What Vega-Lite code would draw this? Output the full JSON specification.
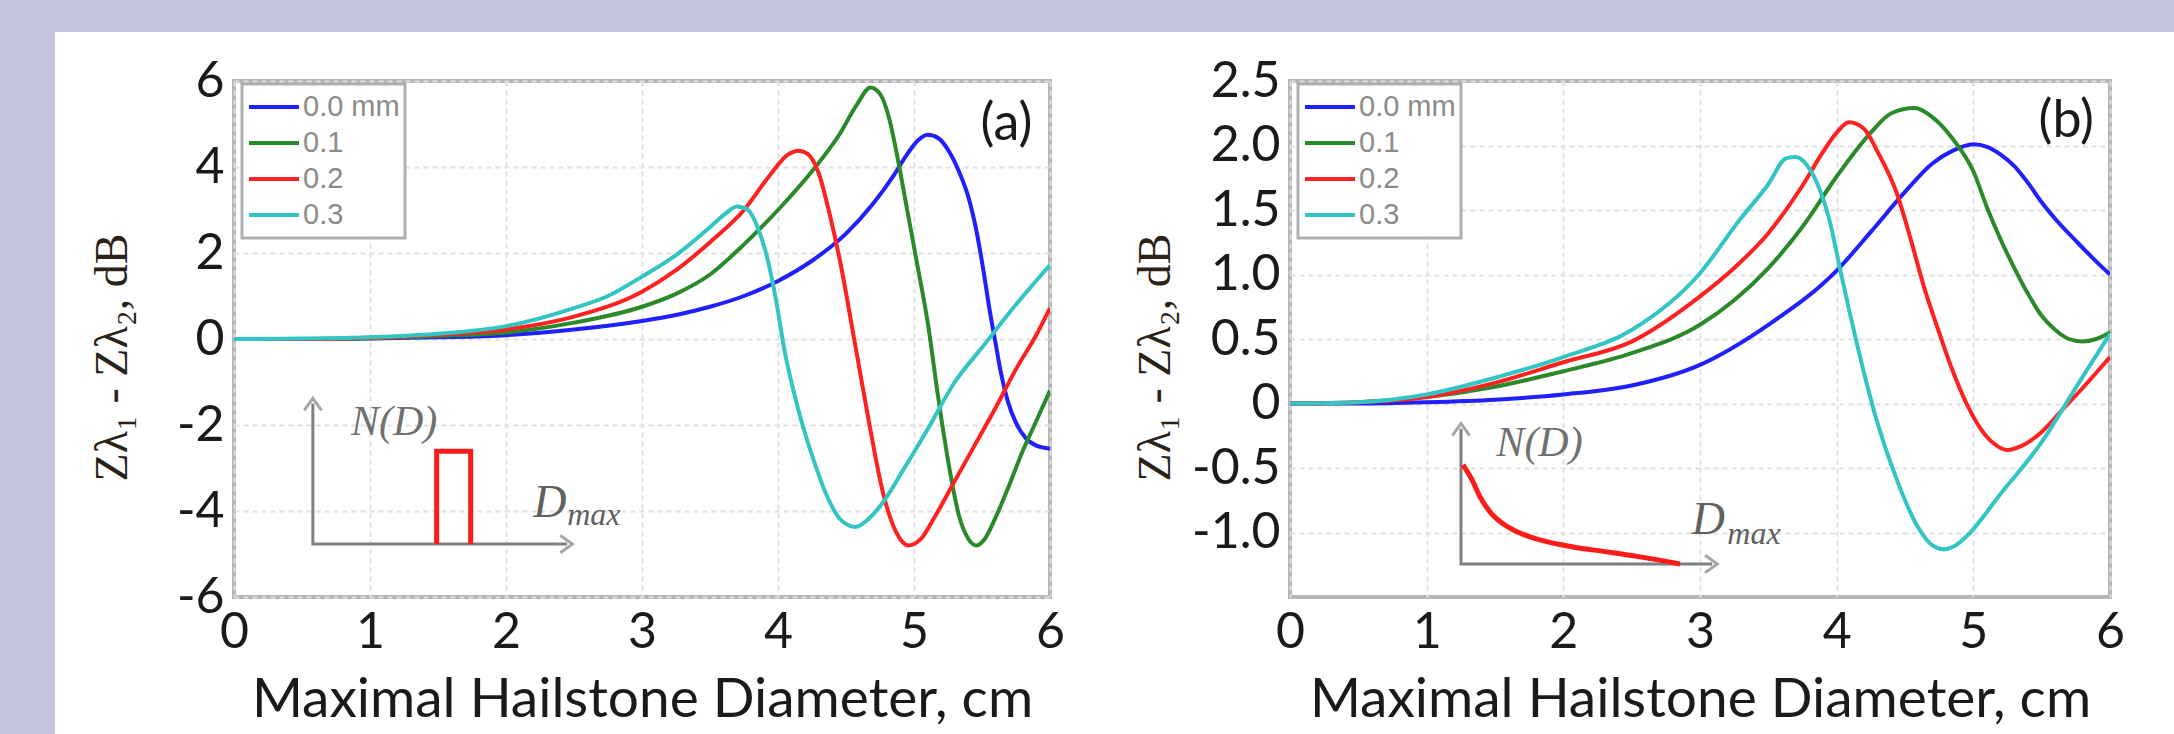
{
  "$schema": "https://vega.github.io/schema/vega-lite/v6.json",
  "background": "white",
  "padding": 0,
  "columns": 6,
  "spacing": 0,
  "bounds": "flush",
  "align": "each",
  "resolve": {"scale": {"color": "independent"}, "legend": {"color": "independent"}},
  "config": {
    "font": "Lato",
    "axis": {
      "grid": true, "gridColor": "#e0e0e0", "gridDash": [5, 4], "gridWidth": 2,
      "ticks": false, "domain": false,
      "labelFont": "Lato", "labelFontSize": 50, "labelColor": "#1a1a1a", "labelPadding": 10,
      "labelFlush": false, "labelOverlap": false,
      "titleFont": "Lato", "titleFontSize": 55, "titleFontWeight": "normal", "titleColor": "#1a1a1a"
    },
    "legend": {
      "orient": "none", "legendX": 8, "legendY": 3, "symbolType": "stroke", "symbolSize": 2500, "symbolStrokeWidth": 4,
      "labelFont": "Liberation Sans", "labelFontSize": 29, "labelColor": "#8a8a8a",
      "strokeColor": "#b0b0b0", "strokeWidth": 3, "fillColor": "white", "padding": 5, "rowPadding": 0,
      "clipHeight": 36, "labelOffset": 2, "cornerRadius": 0
    }
  },
  "datasets": {
    "curvesA": [
      {"x":0,"y":0,"s":"0.0 mm"},{"x":0.5,"y":0,"s":"0.0 mm"},{"x":1,"y":0.01,"s":"0.0 mm"},{"x":1.5,"y":0.04,"s":"0.0 mm"},{"x":2,"y":0.09,"s":"0.0 mm"},{"x":2.5,"y":0.22,"s":"0.0 mm"},{"x":3,"y":0.42,"s":"0.0 mm"},{"x":3.25,"y":0.56,"s":"0.0 mm"},{"x":3.5,"y":0.75,"s":"0.0 mm"},{"x":3.75,"y":1.0,"s":"0.0 mm"},{"x":4,"y":1.35,"s":"0.0 mm"},{"x":4.25,"y":1.82,"s":"0.0 mm"},{"x":4.5,"y":2.45,"s":"0.0 mm"},{"x":4.7,"y":3.15,"s":"0.0 mm"},{"x":4.85,"y":3.8,"s":"0.0 mm"},{"x":4.95,"y":4.3,"s":"0.0 mm"},{"x":5.03,"y":4.62,"s":"0.0 mm"},{"x":5.1,"y":4.75,"s":"0.0 mm"},{"x":5.18,"y":4.67,"s":"0.0 mm"},{"x":5.26,"y":4.35,"s":"0.0 mm"},{"x":5.33,"y":3.9,"s":"0.0 mm"},{"x":5.4,"y":3.3,"s":"0.0 mm"},{"x":5.46,"y":2.5,"s":"0.0 mm"},{"x":5.51,"y":1.6,"s":"0.0 mm"},{"x":5.56,"y":0.6,"s":"0.0 mm"},{"x":5.6,"y":-0.1,"s":"0.0 mm"},{"x":5.64,"y":-0.8,"s":"0.0 mm"},{"x":5.69,"y":-1.45,"s":"0.0 mm"},{"x":5.75,"y":-1.95,"s":"0.0 mm"},{"x":5.82,"y":-2.3,"s":"0.0 mm"},{"x":5.9,"y":-2.48,"s":"0.0 mm"},{"x":6,"y":-2.55,"s":"0.0 mm"},
      {"x":0,"y":0,"s":"0.1"},{"x":0.5,"y":0,"s":"0.1"},{"x":1,"y":0.02,"s":"0.1"},{"x":1.5,"y":0.07,"s":"0.1"},{"x":2,"y":0.15,"s":"0.1"},{"x":2.5,"y":0.38,"s":"0.1"},{"x":3,"y":0.75,"s":"0.1"},{"x":3.25,"y":1.05,"s":"0.1"},{"x":3.5,"y":1.5,"s":"0.1"},{"x":3.75,"y":2.2,"s":"0.1"},{"x":4,"y":3.0,"s":"0.1"},{"x":4.25,"y":3.9,"s":"0.1"},{"x":4.45,"y":4.75,"s":"0.1"},{"x":4.58,"y":5.45,"s":"0.1"},{"x":4.68,"y":5.85,"s":"0.1"},{"x":4.75,"y":5.7,"s":"0.1"},{"x":4.82,"y":5.1,"s":"0.1"},{"x":4.88,"y":4.2,"s":"0.1"},{"x":4.95,"y":3.0,"s":"0.1"},{"x":5.02,"y":1.8,"s":"0.1"},{"x":5.1,"y":0.4,"s":"0.1"},{"x":5.18,"y":-1.4,"s":"0.1"},{"x":5.26,"y":-3.0,"s":"0.1"},{"x":5.33,"y":-4.1,"s":"0.1"},{"x":5.4,"y":-4.65,"s":"0.1"},{"x":5.46,"y":-4.8,"s":"0.1"},{"x":5.52,"y":-4.65,"s":"0.1"},{"x":5.6,"y":-4.15,"s":"0.1"},{"x":5.7,"y":-3.4,"s":"0.1"},{"x":5.8,"y":-2.6,"s":"0.1"},{"x":5.9,"y":-1.9,"s":"0.1"},{"x":6,"y":-1.2,"s":"0.1"},
      {"x":0,"y":0,"s":"0.2"},{"x":0.5,"y":0,"s":"0.2"},{"x":1,"y":0.03,"s":"0.2"},{"x":1.5,"y":0.1,"s":"0.2"},{"x":2,"y":0.22,"s":"0.2"},{"x":2.5,"y":0.52,"s":"0.2"},{"x":3,"y":1.1,"s":"0.2"},{"x":3.25,"y":1.6,"s":"0.2"},{"x":3.5,"y":2.25,"s":"0.2"},{"x":3.75,"y":3.0,"s":"0.2"},{"x":3.95,"y":3.85,"s":"0.2"},{"x":4.07,"y":4.28,"s":"0.2"},{"x":4.15,"y":4.38,"s":"0.2"},{"x":4.22,"y":4.3,"s":"0.2"},{"x":4.3,"y":3.85,"s":"0.2"},{"x":4.38,"y":2.9,"s":"0.2"},{"x":4.46,"y":1.75,"s":"0.2"},{"x":4.56,"y":0,"s":"0.2"},{"x":4.67,"y":-1.95,"s":"0.2"},{"x":4.77,"y":-3.55,"s":"0.2"},{"x":4.87,"y":-4.5,"s":"0.2"},{"x":4.96,"y":-4.8,"s":"0.2"},{"x":5.05,"y":-4.65,"s":"0.2"},{"x":5.15,"y":-4.15,"s":"0.2"},{"x":5.3,"y":-3.3,"s":"0.2"},{"x":5.45,"y":-2.45,"s":"0.2"},{"x":5.6,"y":-1.6,"s":"0.2"},{"x":5.75,"y":-0.7,"s":"0.2"},{"x":5.9,"y":0.1,"s":"0.2"},{"x":6,"y":0.72,"s":"0.2"},
      {"x":0,"y":0,"s":"0.3"},{"x":0.5,"y":0.01,"s":"0.3"},{"x":1,"y":0.04,"s":"0.3"},{"x":1.5,"y":0.12,"s":"0.3"},{"x":2,"y":0.3,"s":"0.3"},{"x":2.5,"y":0.72,"s":"0.3"},{"x":2.75,"y":1.0,"s":"0.3"},{"x":3,"y":1.45,"s":"0.3"},{"x":3.25,"y":1.95,"s":"0.3"},{"x":3.5,"y":2.6,"s":"0.3"},{"x":3.6,"y":2.88,"s":"0.3"},{"x":3.7,"y":3.08,"s":"0.3"},{"x":3.78,"y":3.0,"s":"0.3"},{"x":3.85,"y":2.6,"s":"0.3"},{"x":3.92,"y":1.9,"s":"0.3"},{"x":3.98,"y":1.0,"s":"0.3"},{"x":4.05,"y":-0.3,"s":"0.3"},{"x":4.15,"y":-1.65,"s":"0.3"},{"x":4.26,"y":-2.8,"s":"0.3"},{"x":4.36,"y":-3.65,"s":"0.3"},{"x":4.46,"y":-4.2,"s":"0.3"},{"x":4.57,"y":-4.37,"s":"0.3"},{"x":4.66,"y":-4.2,"s":"0.3"},{"x":4.76,"y":-3.85,"s":"0.3"},{"x":4.92,"y":-3.05,"s":"0.3"},{"x":5.1,"y":-2.1,"s":"0.3"},{"x":5.3,"y":-1.0,"s":"0.3"},{"x":5.5,"y":-0.2,"s":"0.3"},{"x":5.75,"y":0.8,"s":"0.3"},{"x":6,"y":1.72,"s":"0.3"}
    ],
    "curvesB": [
      {"x":0,"y":0,"s":"0.0 mm"},{"x":0.5,"y":0,"s":"0.0 mm"},{"x":1,"y":0.01,"s":"0.0 mm"},{"x":1.5,"y":0.03,"s":"0.0 mm"},{"x":2,"y":0.07,"s":"0.0 mm"},{"x":2.5,"y":0.14,"s":"0.0 mm"},{"x":3,"y":0.3,"s":"0.0 mm"},{"x":3.5,"y":0.61,"s":"0.0 mm"},{"x":4,"y":1.03,"s":"0.0 mm"},{"x":4.25,"y":1.33,"s":"0.0 mm"},{"x":4.5,"y":1.64,"s":"0.0 mm"},{"x":4.7,"y":1.86,"s":"0.0 mm"},{"x":4.85,"y":1.96,"s":"0.0 mm"},{"x":5,"y":2.01,"s":"0.0 mm"},{"x":5.1,"y":1.99,"s":"0.0 mm"},{"x":5.2,"y":1.93,"s":"0.0 mm"},{"x":5.3,"y":1.84,"s":"0.0 mm"},{"x":5.4,"y":1.71,"s":"0.0 mm"},{"x":5.5,"y":1.56,"s":"0.0 mm"},{"x":5.6,"y":1.43,"s":"0.0 mm"},{"x":5.76,"y":1.25,"s":"0.0 mm"},{"x":5.9,"y":1.1,"s":"0.0 mm"},{"x":6,"y":1.0,"s":"0.0 mm"},
      {"x":0,"y":0,"s":"0.1"},{"x":0.5,"y":0.01,"s":"0.1"},{"x":1,"y":0.05,"s":"0.1"},{"x":1.5,"y":0.13,"s":"0.1"},{"x":2,"y":0.25,"s":"0.1"},{"x":2.5,"y":0.39,"s":"0.1"},{"x":3,"y":0.61,"s":"0.1"},{"x":3.25,"y":0.8,"s":"0.1"},{"x":3.5,"y":1.05,"s":"0.1"},{"x":3.75,"y":1.37,"s":"0.1"},{"x":4,"y":1.76,"s":"0.1"},{"x":4.25,"y":2.1,"s":"0.1"},{"x":4.4,"y":2.25,"s":"0.1"},{"x":4.57,"y":2.29,"s":"0.1"},{"x":4.7,"y":2.22,"s":"0.1"},{"x":4.85,"y":2.05,"s":"0.1"},{"x":5,"y":1.8,"s":"0.1"},{"x":5.1,"y":1.52,"s":"0.1"},{"x":5.2,"y":1.27,"s":"0.1"},{"x":5.3,"y":1.05,"s":"0.1"},{"x":5.4,"y":0.85,"s":"0.1"},{"x":5.5,"y":0.68,"s":"0.1"},{"x":5.6,"y":0.57,"s":"0.1"},{"x":5.7,"y":0.5,"s":"0.1"},{"x":5.8,"y":0.48,"s":"0.1"},{"x":5.9,"y":0.5,"s":"0.1"},{"x":6,"y":0.55,"s":"0.1"},
      {"x":0,"y":0,"s":"0.2"},{"x":0.5,"y":0.01,"s":"0.2"},{"x":1,"y":0.05,"s":"0.2"},{"x":1.5,"y":0.16,"s":"0.2"},{"x":2,"y":0.32,"s":"0.2"},{"x":2.5,"y":0.48,"s":"0.2"},{"x":3,"y":0.83,"s":"0.2"},{"x":3.25,"y":1.05,"s":"0.2"},{"x":3.5,"y":1.32,"s":"0.2"},{"x":3.75,"y":1.69,"s":"0.2"},{"x":3.9,"y":1.95,"s":"0.2"},{"x":4,"y":2.1,"s":"0.2"},{"x":4.09,"y":2.18,"s":"0.2"},{"x":4.2,"y":2.13,"s":"0.2"},{"x":4.3,"y":1.95,"s":"0.2"},{"x":4.44,"y":1.63,"s":"0.2"},{"x":4.54,"y":1.28,"s":"0.2"},{"x":4.64,"y":0.9,"s":"0.2"},{"x":4.75,"y":0.55,"s":"0.2"},{"x":4.85,"y":0.25,"s":"0.2"},{"x":4.95,"y":0,"s":"0.2"},{"x":5.05,"y":-0.19,"s":"0.2"},{"x":5.15,"y":-0.31,"s":"0.2"},{"x":5.25,"y":-0.36,"s":"0.2"},{"x":5.35,"y":-0.33,"s":"0.2"},{"x":5.5,"y":-0.22,"s":"0.2"},{"x":5.65,"y":-0.05,"s":"0.2"},{"x":5.8,"y":0.12,"s":"0.2"},{"x":6,"y":0.36,"s":"0.2"},
      {"x":0,"y":0,"s":"0.3"},{"x":0.5,"y":0.01,"s":"0.3"},{"x":1,"y":0.07,"s":"0.3"},{"x":1.5,"y":0.2,"s":"0.3"},{"x":2,"y":0.36,"s":"0.3"},{"x":2.5,"y":0.57,"s":"0.3"},{"x":3,"y":1.01,"s":"0.3"},{"x":3.28,"y":1.41,"s":"0.3"},{"x":3.5,"y":1.7,"s":"0.3"},{"x":3.63,"y":1.9,"s":"0.3"},{"x":3.7,"y":1.91,"s":"0.3"},{"x":3.78,"y":1.85,"s":"0.3"},{"x":3.86,"y":1.7,"s":"0.3"},{"x":3.94,"y":1.45,"s":"0.3"},{"x":4.04,"y":0.97,"s":"0.3"},{"x":4.14,"y":0.5,"s":"0.3"},{"x":4.29,"y":-0.12,"s":"0.3"},{"x":4.44,"y":-0.59,"s":"0.3"},{"x":4.59,"y":-0.95,"s":"0.3"},{"x":4.7,"y":-1.1,"s":"0.3"},{"x":4.78,"y":-1.13,"s":"0.3"},{"x":4.87,"y":-1.1,"s":"0.3"},{"x":4.95,"y":-1.03,"s":"0.3"},{"x":5.2,"y":-0.7,"s":"0.3"},{"x":5.5,"y":-0.3,"s":"0.3"},{"x":5.76,"y":0.14,"s":"0.3"},{"x":6,"y":0.54,"s":"0.3"}
    ],
    "axesA": [{"x":0.58,"y":-1.5,"o":1},{"x":0.58,"y":-4.77,"o":2},{"x":2.45,"y":-4.77,"o":3}],
    "upA": [{"x":0.58,"y":-1.5}],
    "rightA": [{"x":2.45,"y":-4.77}],
    "boxA": [{"x":1.49,"y":-4.77,"o":1},{"x":1.49,"y":-2.61,"o":2},{"x":1.74,"y":-2.61,"o":3},{"x":1.74,"y":-4.77,"o":4}],
    "axesB": [{"x":1.251,"y":-0.195,"o":1},{"x":1.251,"y":-1.244,"o":2},{"x":3.088,"y":-1.244,"o":3}],
    "upB": [{"x":1.251,"y":-0.195}],
    "rightB": [{"x":3.088,"y":-1.244}],
    "decayB": [{"x":1.266,"y":-0.475},{"x":1.332,"y":-0.591},{"x":1.39,"y":-0.723},{"x":1.463,"y":-0.84},{"x":1.559,"y":-0.933},{"x":1.661,"y":-0.995},{"x":1.829,"y":-1.057},{"x":2.071,"y":-1.112},{"x":2.32,"y":-1.15},{"x":2.561,"y":-1.189},{"x":2.854,"y":-1.244}],
    "ndA": [{"x":0.86,"y":-1.92,"t":"N(D)"}],
    "dA": [{"x":2.2,"y":-3.81,"t":"D"}],
    "maxA": [{"x":2.45,"y":-4.1,"t":"max"}],
    "tagA": [{"x":5.68,"y":5.0,"t":"(a)"}],
    "ndB": [{"x":1.51,"y":-0.31,"t":"N(D)"}],
    "dB": [{"x":2.94,"y":-0.9,"t":"D"}],
    "maxB": [{"x":3.2,"y":-1.01,"t":"max"}],
    "tagB": [{"x":5.68,"y":2.19,"t":"(b)"}]
  },
  "concat": [
    {"width": 55, "height": 32, "view": {"stroke": null, "fill": "#c5c5dd"}, "data": {"values": []}, "mark": "point"},
    {"width": 179, "height": 32, "view": {"stroke": null, "fill": "#c5c5dd"}, "data": {"values": []}, "mark": "point"},
    {"width": 816, "height": 32, "view": {"stroke": null, "fill": "#c5c5dd"}, "data": {"values": []}, "mark": "point"},
    {"width": 240, "height": 32, "view": {"stroke": null, "fill": "#c5c5dd"}, "data": {"values": []}, "mark": "point"},
    {"width": 820, "height": 32, "view": {"stroke": null, "fill": "#c5c5dd"}, "data": {"values": []}, "mark": "point"},
    {"width": 64, "height": 32, "view": {"stroke": null, "fill": "#c5c5dd"}, "data": {"values": []}, "mark": "point"},

    {"width": 55, "height": 49, "view": {"stroke": null, "fill": "#c5c5dd"}, "data": {"values": []}, "mark": "point"},
    {"width": 1, "height": 1, "view": {"stroke": null}, "data": {"values": []}, "mark": "point"},
    {"width": 1, "height": 1, "view": {"stroke": null}, "data": {"values": []}, "mark": "point"},
    {"width": 1, "height": 1, "view": {"stroke": null}, "data": {"values": []}, "mark": "point"},
    {"width": 1, "height": 1, "view": {"stroke": null}, "data": {"values": []}, "mark": "point"},
    {"width": 1, "height": 1, "view": {"stroke": null}, "data": {"values": []}, "mark": "point"},

    {"width": 55, "height": 516, "view": {"stroke": null, "fill": "#c5c5dd"}, "data": {"values": []}, "mark": "point"},
    {"width": 1, "height": 1, "view": {"stroke": null}, "data": {"values": []}, "mark": "point"},
    {
      "width": 816, "height": 516,
      "view": {"stroke": "#b5b5b5", "strokeWidth": 4, "fill": "white"},
      "encoding": {
        "x": {"field": "x", "type": "quantitative", "scale": {"domain": [0, 6], "nice": false},
              "axis": {"values": [0,1,2,3,4,5,6], "format": "d", "title": "Maximal Hailstone Diameter, cm", "titlePadding": 16}},
        "y": {"field": "y", "type": "quantitative", "scale": {"domain": [-6, 6], "nice": false, "zero": false},
              "axis": {"values": [-6,-4,-2,0,2,4,6], "labelExpr": "datum.value < 0 ? '-' + abs(datum.value) : '' + datum.value",
                       "title": "Zλ₁ - Zλ₂, dB", "titleFont": "Liberation Serif", "titleFontSize": 46, "titleColor": "#2a2218", "titlePadding": 40, "titleY": 276}}
      },
      "layer": [
        {"data": {"name": "curvesA"}, "mark": {"type": "line", "strokeWidth": 4, "clip": true, "interpolate": "monotone"},
         "encoding": {"color": {"field": "s", "type": "nominal",
           "scale": {"domain": ["0.0 mm","0.1","0.2","0.3"], "range": ["#1f1fff","#2a8a2a","#ff2020","#33c4c4"]},
           "legend": {"title": null}}}},
        {"data": {"name": "axesA"}, "mark": {"type": "line", "color": "#808080", "strokeWidth": 3},
         "encoding": {"order": {"field": "o", "type": "quantitative"}}},
        {"data": {"name": "upA"}, "mark": {"type": "point", "shape": "M-1,0.8L0,-0.6L1,0.8", "filled": false, "color": "#808080", "strokeWidth": 3, "size": 300}},
        {"data": {"name": "rightA"}, "mark": {"type": "point", "shape": "M-0.8,-1L0.6,0L-0.8,1", "filled": false, "color": "#808080", "strokeWidth": 3, "size": 300}},
        {"data": {"name": "boxA"}, "mark": {"type": "line", "color": "#ff1a1a", "strokeWidth": 5},
         "encoding": {"order": {"field": "o", "type": "quantitative"}}},
        {"data": {"name": "ndA"}, "mark": {"type": "text", "font": "Liberation Serif", "fontStyle": "italic", "fontSize": 42, "color": "#707070", "align": "left", "baseline": "middle"},
         "encoding": {"text": {"field": "t"}}},
        {"data": {"name": "dA"}, "mark": {"type": "text", "font": "Liberation Serif", "fontStyle": "italic", "fontSize": 46, "color": "#606060", "align": "left", "baseline": "middle"},
         "encoding": {"text": {"field": "t"}}},
        {"data": {"name": "maxA"}, "mark": {"type": "text", "font": "Liberation Serif", "fontStyle": "italic", "fontSize": 32, "color": "#606060", "align": "left", "baseline": "middle"},
         "encoding": {"text": {"field": "t"}}},
        {"data": {"name": "tagA"}, "mark": {"type": "text", "font": "Lato", "fontSize": 52, "color": "#1a1a1a", "align": "center", "baseline": "middle"},
         "encoding": {"text": {"field": "t"}}}
      ]
    },
    {"width": 1, "height": 1, "view": {"stroke": null}, "data": {"values": []}, "mark": "point"},
    {
      "width": 820, "height": 516,
      "view": {"stroke": "#b5b5b5", "strokeWidth": 4, "fill": "white"},
      "encoding": {
        "x": {"field": "x", "type": "quantitative", "scale": {"domain": [0, 6], "nice": false},
              "axis": {"values": [0,1,2,3,4,5,6], "format": "d", "title": "Maximal Hailstone Diameter, cm", "titlePadding": 16}},
        "y": {"field": "y", "type": "quantitative", "scale": {"domain": [-1.5, 2.5], "nice": false, "zero": false},
              "axis": {"values": [-1,-0.5,0,0.5,1,1.5,2,2.5], "labelExpr": "datum.value == 0 ? '0' : (datum.value < 0 ? '-' : '') + format(abs(datum.value), '.1f')",
                       "title": "Zλ₁ - Zλ₂, dB", "titleFont": "Liberation Serif", "titleFontSize": 46, "titleColor": "#2a2218", "titlePadding": 12, "titleY": 276}}
      },
      "layer": [
        {"data": {"name": "curvesB"}, "mark": {"type": "line", "strokeWidth": 4, "clip": true, "interpolate": "monotone"},
         "encoding": {"color": {"field": "s", "type": "nominal",
           "scale": {"domain": ["0.0 mm","0.1","0.2","0.3"], "range": ["#1f1fff","#2a8a2a","#ff2020","#33c4c4"]},
           "legend": {"title": null}}}},
        {"data": {"name": "axesB"}, "mark": {"type": "line", "color": "#808080", "strokeWidth": 3},
         "encoding": {"order": {"field": "o", "type": "quantitative"}}},
        {"data": {"name": "upB"}, "mark": {"type": "point", "shape": "M-1,0.8L0,-0.6L1,0.8", "filled": false, "color": "#808080", "strokeWidth": 3, "size": 300}},
        {"data": {"name": "rightB"}, "mark": {"type": "point", "shape": "M-0.8,-1L0.6,0L-0.8,1", "filled": false, "color": "#808080", "strokeWidth": 3, "size": 300}},
        {"data": {"name": "decayB"}, "mark": {"type": "line", "color": "#ff1a1a", "strokeWidth": 5, "interpolate": "monotone"}},
        {"data": {"name": "ndB"}, "mark": {"type": "text", "font": "Liberation Serif", "fontStyle": "italic", "fontSize": 42, "color": "#707070", "align": "left", "baseline": "middle"},
         "encoding": {"text": {"field": "t"}}},
        {"data": {"name": "dB"}, "mark": {"type": "text", "font": "Liberation Serif", "fontStyle": "italic", "fontSize": 46, "color": "#606060", "align": "left", "baseline": "middle"},
         "encoding": {"text": {"field": "t"}}},
        {"data": {"name": "maxB"}, "mark": {"type": "text", "font": "Liberation Serif", "fontStyle": "italic", "fontSize": 32, "color": "#606060", "align": "left", "baseline": "middle"},
         "encoding": {"text": {"field": "t"}}},
        {"data": {"name": "tagB"}, "mark": {"type": "text", "font": "Lato", "fontSize": 52, "color": "#1a1a1a", "align": "center", "baseline": "middle"},
         "encoding": {"text": {"field": "t"}}}
      ]
    },
    {"width": 1, "height": 1, "view": {"stroke": null}, "data": {"values": []}, "mark": "point"},

    {"width": 55, "height": 137, "view": {"stroke": null, "fill": "#c5c5dd"}, "data": {"values": []}, "mark": "point"}
  ]
}
